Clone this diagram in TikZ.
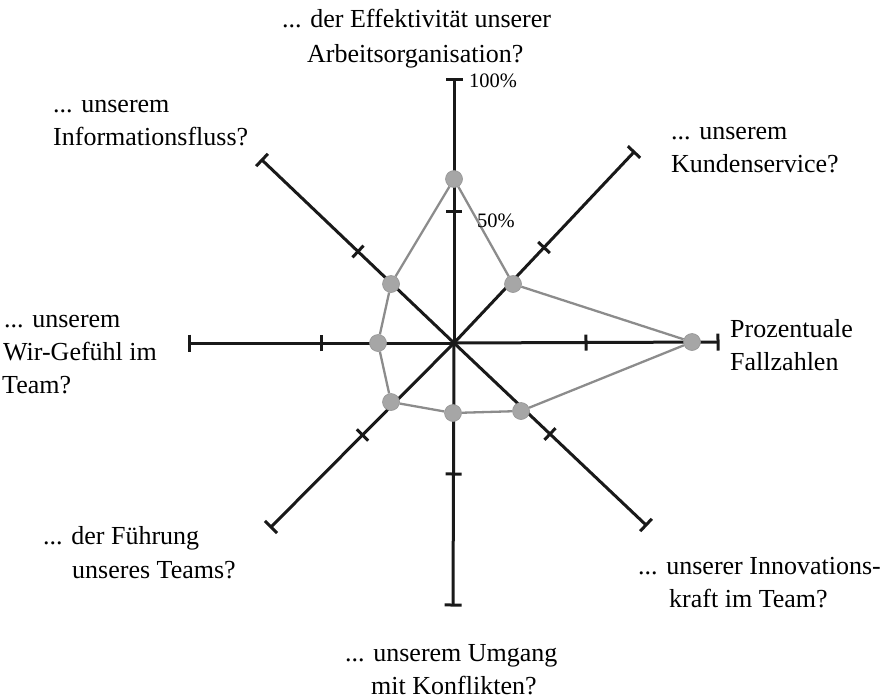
\documentclass[tikz,border=0pt]{standalone}
\usepackage{fontspec}
\setmainfont{Liberation Serif}
\usetikzlibrary{calc}
\begin{document}
\begin{tikzpicture}[x=1pt,y=-1pt,
  axis/.style={line width=3pt, draw=black!90},
  tickbar/.style={line width=3pt, draw=black!90},
  poly/.style={line width=2.3pt, draw=black!45},
  datapt/.style={circle, fill=black!35, draw=black!42, line width=0.6pt, minimum size=17pt, inner sep=0pt},
  lbl/.style={anchor=base west, inner sep=0pt, font=\fontsize{26}{32}\selectfont},
  pct/.style={anchor=base west, inner sep=0pt, font=\fontsize{20.5}{24}\selectfont}]
\useasboundingbox (0,0) rectangle (894,699);
% axes
\coordinate (O) at (454,343);
\coordinate (eU) at (454,79);
\coordinate (eUR) at (634,152);
\coordinate (eR) at (718,342);
\coordinate (eLR) at (646,525);
\coordinate (eD) at (453,605);
\coordinate (eLL) at (271,527);
\coordinate (eL) at (189,343);
\coordinate (eUL) at (262,160);
\foreach \e in {eU,eUR,eR,eLR,eD,eLL,eL,eUL} {
  \draw[axis] (O) -- (\e);
  \draw[tickbar] ($(\e)!8.5pt!90:(O)$) -- ($(\e)!8.5pt!-90:(O)$);
  \coordinate (m) at ($(O)!0.5!(\e)$);
  \draw[tickbar] ($(m)!8pt!90:(\e)$) -- ($(m)!8pt!-90:(\e)$);
}
% data points
\node[datapt] (p1) at (454,179) {};
\node[datapt] (p2) at (513,284) {};
\node[datapt] (p3) at (692,342) {};
\node[datapt] (p4) at (521,411) {};
\node[datapt] (p5) at (453,413) {};
\node[datapt] (p6) at (391,402) {};
\node[datapt] (p7) at (378,343) {};
\node[datapt] (p8) at (391,284) {};
\draw[poly] (p1) -- (p2) -- (p3) -- (p4) -- (p5) -- (p6) -- (p7) -- (p8) -- (p1);
% percent labels
\node[pct] (pc100) at (469,87) {100\%};
\node[pct] (pc50) at (477,227) {50\%};
% axis labels
\node[lbl] (top1) at (282,27) {... der Effektivität unserer};
\node[lbl] (top2) at (307,62) {Arbeitsorganisation?};
\node[lbl] (ul1) at (53,112) {... unserem};
\node[lbl] (ul2) at (53,145) {Informationsfluss?};
\node[lbl] (ur1) at (671,139) {... unserem};
\node[lbl] (ur2) at (671,172) {Kundenservice?};
\node[lbl] (r1) at (730,337) {Prozentuale};
\node[lbl] (r2) at (730,370) {Fallzahlen};
\node[lbl] (l1) at (4,327) {... unserem};
\node[lbl] (l2) at (3,360) {Wir-Gefühl im};
\node[lbl] (l3) at (2,393) {Team?};
\node[lbl] (ll1) at (43,544) {... der Führung};
\node[lbl] (ll2) at (72,578) {unseres Teams?};
\node[lbl] (lr1) at (638,574) {... unserer Innovations-};
\node[lbl] (lr2) at (669,607) {kraft im Team?};
\node[lbl] (b1) at (345,661) {... unserem Umgang};
\node[lbl] (b2) at (371,694) {mit Konflikten?};
\end{tikzpicture}
\end{document}
